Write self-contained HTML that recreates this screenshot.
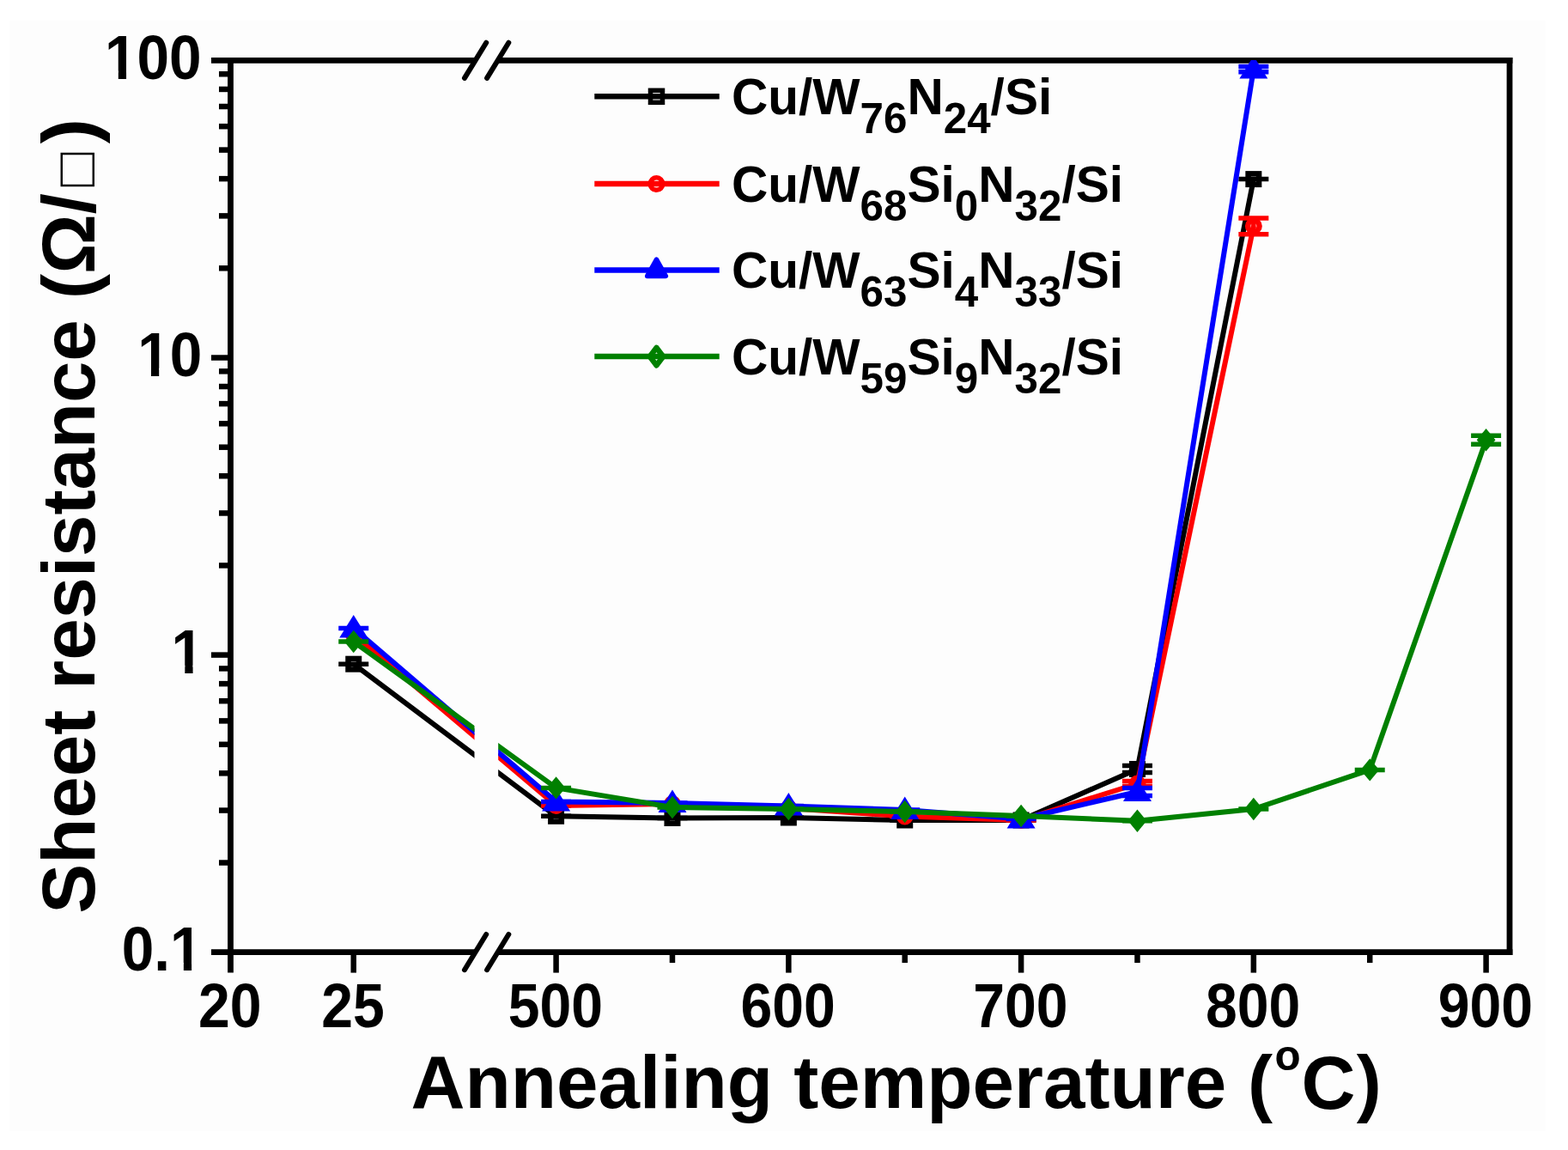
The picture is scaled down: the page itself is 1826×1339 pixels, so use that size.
<!DOCTYPE html>
<html><head><meta charset="utf-8"><title>Sheet resistance vs annealing temperature</title>
<style>html,body{margin:0;padding:0;background:#fff;} svg{display:block;}</style></head>
<body>
<svg width="1826" height="1339" viewBox="0 0 1826 1339" font-family="'Liberation Sans', Arial, sans-serif"><rect x="11" y="24" width="1789" height="1293" fill="#fdfdfd"/>
<g stroke="#000" stroke-width="6.8" fill="none"><line x1="268.5" y1="66.89999999999999" x2="268.5" y2="1132.6" /><line x1="1758.0" y1="66.89999999999999" x2="1758.0" y2="1112.0" /><line x1="246.0" y1="70.3" x2="553.6" y2="70.3" /><line x1="579.7" y1="70.3" x2="1761.4" y2="70.3" /><line x1="246.0" y1="1108.6" x2="553.6" y2="1108.6" /><line x1="579.7" y1="1108.6" x2="1761.4" y2="1108.6" /></g>
<g stroke="#000" stroke-width="6.5" fill="none"><line x1="255.0" y1="1004.51" x2="268.5" y2="1004.51" /><line x1="255.0" y1="943.57" x2="268.5" y2="943.57" /><line x1="255.0" y1="900.33" x2="268.5" y2="900.33" /><line x1="255.0" y1="866.79" x2="268.5" y2="866.79" /><line x1="255.0" y1="839.38" x2="268.5" y2="839.38" /><line x1="255.0" y1="816.21" x2="268.5" y2="816.21" /><line x1="255.0" y1="796.14" x2="268.5" y2="796.14" /><line x1="255.0" y1="778.44" x2="268.5" y2="778.44" /><line x1="255.0" y1="658.41" x2="268.5" y2="658.41" /><line x1="255.0" y1="597.47" x2="268.5" y2="597.47" /><line x1="255.0" y1="554.23" x2="268.5" y2="554.23" /><line x1="255.0" y1="520.69" x2="268.5" y2="520.69" /><line x1="255.0" y1="493.28" x2="268.5" y2="493.28" /><line x1="255.0" y1="470.11" x2="268.5" y2="470.11" /><line x1="255.0" y1="450.04" x2="268.5" y2="450.04" /><line x1="255.0" y1="432.34" x2="268.5" y2="432.34" /><line x1="255.0" y1="312.31" x2="268.5" y2="312.31" /><line x1="255.0" y1="251.37" x2="268.5" y2="251.37" /><line x1="255.0" y1="208.13" x2="268.5" y2="208.13" /><line x1="255.0" y1="174.59" x2="268.5" y2="174.59" /><line x1="255.0" y1="147.18" x2="268.5" y2="147.18" /><line x1="255.0" y1="124.01" x2="268.5" y2="124.01" /><line x1="255.0" y1="103.94" x2="268.5" y2="103.94" /><line x1="255.0" y1="86.24" x2="268.5" y2="86.24" /><line x1="246.0" y1="416.50" x2="268.5" y2="416.50" /><line x1="246.0" y1="762.60" x2="268.5" y2="762.60" /><line x1="411.75" y1="1108.6" x2="411.75" y2="1132.6" /><line x1="647.60" y1="1108.6" x2="647.60" y2="1132.6" /><line x1="918.35" y1="1108.6" x2="918.35" y2="1132.6" /><line x1="1189.10" y1="1108.6" x2="1189.10" y2="1132.6" /><line x1="1459.85" y1="1108.6" x2="1459.85" y2="1132.6" /><line x1="1730.60" y1="1108.6" x2="1730.60" y2="1132.6" /><line x1="782.98" y1="1108.6" x2="782.98" y2="1121.1" /><line x1="1053.72" y1="1108.6" x2="1053.72" y2="1121.1" /><line x1="1324.47" y1="1108.6" x2="1324.47" y2="1121.1" /><line x1="1595.22" y1="1108.6" x2="1595.22" y2="1121.1" /></g>
<g stroke="#000" stroke-width="6" stroke-linecap="round" fill="none"><line x1="541.0" y1="90.9" x2="566.2" y2="49.7" /><line x1="567.1" y1="90.9" x2="592.3" y2="49.7" /><line x1="541.0" y1="1129.2" x2="566.2" y2="1088.0" /><line x1="567.1" y1="1129.2" x2="592.3" y2="1088.0" /></g>
<g font-size="67.5" font-weight="bold"><text clip-path="url(#c1_0)" transform="translate(122.05,92.0) scale(1,1.06)">100</text><text clip-path="url(#c1_1)" transform="translate(160.19,438.1) scale(1,1.06)">10</text><text clip-path="url(#c1_2)" transform="translate(199.58,784.2) scale(1,1.06)">1</text><text clip-path="url(#c1_3)" transform="translate(141.80,1130.3) scale(1,1.06)">0.1</text><text text-anchor="middle" transform="translate(267.8,1196.4) scale(0.98,1.06)">20</text><text text-anchor="middle" transform="translate(411.1,1196.4) scale(0.98,1.06)">25</text><text text-anchor="middle" transform="translate(646.9,1196.4) scale(0.98,1.06)">500</text><text text-anchor="middle" transform="translate(917.6,1196.4) scale(0.98,1.06)">600</text><text text-anchor="middle" transform="translate(1188.4,1196.4) scale(0.98,1.06)">700</text><text text-anchor="middle" transform="translate(1459.1,1196.4) scale(0.98,1.06)">800</text><text text-anchor="middle" transform="translate(1729.9,1196.4) scale(0.98,1.06)">900</text></g>
<text font-size="87" font-weight="bold" transform="translate(109.6,1063.8) rotate(-90)">Sheet resistance (Ω/<tspan font-weight="normal" font-size="66" dx="8">□</tspan><tspan dx="10">)</tspan></text>
<text font-weight="bold" font-size="87.2" x="478.6" y="1290.3">Annealing temperature <tspan x="1452.9" y="1290">(</tspan><tspan x="1484.5" y="1246" font-size="49.4">o</tspan><tspan x="1515.6" y="1290.6">C</tspan><tspan x="1579.8" y="1290">)</tspan></text>
<defs><clipPath id="c1_0"><rect x="-50" y="-200" width="300" height="191.11"/><rect x="-50.00" y="-200" width="52.25" height="300"/><rect x="15.75" y="-200" width="9.26" height="300"/><rect x="37.66" y="-200" width="212.34" height="300"/></clipPath><clipPath id="c1_1"><rect x="-50" y="-200" width="300" height="191.11"/><rect x="-50.00" y="-200" width="52.25" height="300"/><rect x="15.75" y="-200" width="9.26" height="300"/><rect x="37.66" y="-200" width="212.34" height="300"/></clipPath><clipPath id="c1_2"><rect x="-50" y="-200" width="300" height="191.11"/><rect x="-50.00" y="-200" width="52.25" height="300"/><rect x="15.75" y="-200" width="9.26" height="300"/><rect x="37.66" y="-200" width="212.34" height="300"/></clipPath><clipPath id="c1_3"><rect x="-50" y="-200" width="300" height="191.11"/><rect x="-50.00" y="-200" width="108.55" height="300"/><rect x="72.05" y="-200" width="9.26" height="300"/><rect x="93.96" y="-200" width="156.04" height="300"/></clipPath><clipPath id="cl"><rect x="268.5" y="70" width="284" height="1039"/><rect x="580.2" y="70" width="1177.8" height="1039"/></clipPath></defs>
<g clip-path="url(#cl)"><g><polyline points="411.75,773.20 647.60,950.30 782.98,952.50 918.35,952.00 1053.72,955.00 1189.10,955.00 1324.47,895.50 1459.85,208.60" fill="none" stroke="#000000" stroke-width="6.0" stroke-linejoin="round"/><g stroke="#000000" stroke-width="5.5"><line x1="394.25" y1="773.20" x2="429.25" y2="773.20"/></g><rect x="405.50" y="766.95" width="12.5" height="12.5" fill="none" stroke="#000000" stroke-width="6.5"/><g stroke="#000000" stroke-width="5.5"><line x1="630.10" y1="950.30" x2="665.10" y2="950.30"/></g><rect x="641.35" y="944.05" width="12.5" height="12.5" fill="none" stroke="#000000" stroke-width="6.5"/><g stroke="#000000" stroke-width="5.5"><line x1="765.48" y1="952.50" x2="800.48" y2="952.50"/></g><rect x="776.73" y="946.25" width="12.5" height="12.5" fill="none" stroke="#000000" stroke-width="6.5"/><g stroke="#000000" stroke-width="5.5"><line x1="900.85" y1="952.00" x2="935.85" y2="952.00"/></g><rect x="912.10" y="945.75" width="12.5" height="12.5" fill="none" stroke="#000000" stroke-width="6.5"/><g stroke="#000000" stroke-width="5.5"><line x1="1036.22" y1="955.00" x2="1071.22" y2="955.00"/></g><rect x="1047.47" y="948.75" width="12.5" height="12.5" fill="none" stroke="#000000" stroke-width="6.5"/><g stroke="#000000" stroke-width="5.5"><line x1="1171.60" y1="955.00" x2="1206.60" y2="955.00"/></g><rect x="1182.85" y="948.75" width="12.5" height="12.5" fill="none" stroke="#000000" stroke-width="6.5"/><g stroke="#000000" stroke-width="5.5"><line x1="1324.47" y1="891.50" x2="1324.47" y2="899.50"/><line x1="1306.97" y1="891.50" x2="1341.97" y2="891.50"/><line x1="1306.97" y1="899.50" x2="1341.97" y2="899.50"/></g><rect x="1318.22" y="889.25" width="12.5" height="12.5" fill="none" stroke="#000000" stroke-width="6.5"/><g stroke="#000000" stroke-width="5.5"><line x1="1442.35" y1="208.60" x2="1477.35" y2="208.60"/></g><rect x="1453.60" y="202.35" width="12.5" height="12.5" fill="none" stroke="#000000" stroke-width="6.5"/></g><g><polyline points="411.75,738.50 647.60,938.00 782.98,936.00 918.35,941.00 1053.72,950.50 1189.10,955.00 1324.47,912.50 1459.85,263.30" fill="none" stroke="#ff0000" stroke-width="6.0" stroke-linejoin="round"/><g stroke="#ff0000" stroke-width="5.5"></g><circle cx="411.75" cy="738.50" r="6.75" fill="none" stroke="#ff0000" stroke-width="6.5"/><g stroke="#ff0000" stroke-width="5.5"><line x1="630.10" y1="938.00" x2="665.10" y2="938.00"/></g><circle cx="647.60" cy="938.00" r="6.75" fill="none" stroke="#ff0000" stroke-width="6.5"/><g stroke="#ff0000" stroke-width="5.5"><line x1="765.48" y1="936.00" x2="800.48" y2="936.00"/></g><circle cx="782.98" cy="936.00" r="6.75" fill="none" stroke="#ff0000" stroke-width="6.5"/><g stroke="#ff0000" stroke-width="5.5"><line x1="900.85" y1="941.00" x2="935.85" y2="941.00"/></g><circle cx="918.35" cy="941.00" r="6.75" fill="none" stroke="#ff0000" stroke-width="6.5"/><g stroke="#ff0000" stroke-width="5.5"><line x1="1036.22" y1="950.50" x2="1071.22" y2="950.50"/></g><circle cx="1053.72" cy="950.50" r="6.75" fill="none" stroke="#ff0000" stroke-width="6.5"/><g stroke="#ff0000" stroke-width="5.5"><line x1="1171.60" y1="955.00" x2="1206.60" y2="955.00"/></g><circle cx="1189.10" cy="955.00" r="6.75" fill="none" stroke="#ff0000" stroke-width="6.5"/><g stroke="#ff0000" stroke-width="5.5"><line x1="1324.47" y1="909.50" x2="1324.47" y2="915.50"/><line x1="1306.97" y1="909.50" x2="1341.97" y2="909.50"/><line x1="1306.97" y1="915.50" x2="1341.97" y2="915.50"/></g><circle cx="1324.47" cy="912.50" r="6.75" fill="none" stroke="#ff0000" stroke-width="6.5"/><g stroke="#ff0000" stroke-width="5.5"><line x1="1459.85" y1="253.90" x2="1459.85" y2="272.70"/><line x1="1442.35" y1="253.90" x2="1477.35" y2="253.90"/><line x1="1442.35" y1="272.70" x2="1477.35" y2="272.70"/></g><circle cx="1459.85" cy="263.30" r="6.75" fill="none" stroke="#ff0000" stroke-width="6.5"/></g><g><polyline points="411.75,731.50 647.60,933.50 782.98,935.00 918.35,938.50 1053.72,943.00 1189.10,953.50 1324.47,922.00 1459.85,80.60" fill="none" stroke="#0000ff" stroke-width="6.0" stroke-linejoin="round"/><g stroke="#0000ff" stroke-width="5.5"><line x1="394.25" y1="731.50" x2="429.25" y2="731.50"/></g><path d="M411.75 716.00 L428.25 742.50 L395.25 742.50 Z" fill="#0000ff"/><g stroke="#0000ff" stroke-width="5.5"><line x1="630.10" y1="933.50" x2="665.10" y2="933.50"/></g><path d="M647.60 918.00 L664.10 944.50 L631.10 944.50 Z" fill="#0000ff"/><g stroke="#0000ff" stroke-width="5.5"><line x1="765.48" y1="935.00" x2="800.48" y2="935.00"/></g><path d="M782.98 919.50 L799.48 946.00 L766.48 946.00 Z" fill="#0000ff"/><g stroke="#0000ff" stroke-width="5.5"><line x1="900.85" y1="938.50" x2="935.85" y2="938.50"/></g><path d="M918.35 923.00 L934.85 949.50 L901.85 949.50 Z" fill="#0000ff"/><g stroke="#0000ff" stroke-width="5.5"><line x1="1036.22" y1="943.00" x2="1071.22" y2="943.00"/></g><path d="M1053.72 927.50 L1070.22 954.00 L1037.22 954.00 Z" fill="#0000ff"/><g stroke="#0000ff" stroke-width="5.5"><line x1="1171.60" y1="953.50" x2="1206.60" y2="953.50"/></g><path d="M1189.10 938.00 L1205.60 964.50 L1172.60 964.50 Z" fill="#0000ff"/><g stroke="#0000ff" stroke-width="5.5"><line x1="1324.47" y1="917.50" x2="1324.47" y2="926.50"/><line x1="1306.97" y1="917.50" x2="1341.97" y2="917.50"/><line x1="1306.97" y1="926.50" x2="1341.97" y2="926.50"/></g><path d="M1324.47 906.50 L1340.97 933.00 L1307.97 933.00 Z" fill="#0000ff"/><g stroke="#0000ff" stroke-width="5.5"><line x1="1459.85" y1="77.40" x2="1459.85" y2="83.80"/><line x1="1442.35" y1="77.40" x2="1477.35" y2="77.40"/><line x1="1442.35" y1="83.80" x2="1477.35" y2="83.80"/></g><path d="M1459.85 65.10 L1476.35 91.60 L1443.35 91.60 Z" fill="#0000ff"/></g><g><polyline points="411.75,747.00 647.60,917.40 782.98,940.00 918.35,942.00 1053.72,945.00 1189.10,950.00 1324.47,955.70 1459.85,942.00 1595.22,896.40 1730.60,512.20" fill="none" stroke="#008000" stroke-width="6.0" stroke-linejoin="round"/><g stroke="#008000" stroke-width="5.5"><line x1="394.25" y1="747.00" x2="429.25" y2="747.00"/></g><path d="M411.75 733.80 L422.65 747.00 L411.75 760.20 L400.85 747.00 Z" fill="#008000"/><g stroke="#008000" stroke-width="5.5"><line x1="630.10" y1="917.40" x2="665.10" y2="917.40"/></g><path d="M647.60 904.20 L658.50 917.40 L647.60 930.60 L636.70 917.40 Z" fill="#008000"/><g stroke="#008000" stroke-width="5.5"><line x1="765.48" y1="940.00" x2="800.48" y2="940.00"/></g><path d="M782.98 926.80 L793.88 940.00 L782.98 953.20 L772.08 940.00 Z" fill="#008000"/><g stroke="#008000" stroke-width="5.5"><line x1="900.85" y1="942.00" x2="935.85" y2="942.00"/></g><path d="M918.35 928.80 L929.25 942.00 L918.35 955.20 L907.45 942.00 Z" fill="#008000"/><g stroke="#008000" stroke-width="5.5"><line x1="1036.22" y1="945.00" x2="1071.22" y2="945.00"/></g><path d="M1053.72 931.80 L1064.62 945.00 L1053.72 958.20 L1042.82 945.00 Z" fill="#008000"/><g stroke="#008000" stroke-width="5.5"><line x1="1171.60" y1="950.00" x2="1206.60" y2="950.00"/></g><path d="M1189.10 936.80 L1200.00 950.00 L1189.10 963.20 L1178.20 950.00 Z" fill="#008000"/><g stroke="#008000" stroke-width="5.5"><line x1="1306.97" y1="955.70" x2="1341.97" y2="955.70"/></g><path d="M1324.47 942.50 L1335.38 955.70 L1324.47 968.90 L1313.57 955.70 Z" fill="#008000"/><g stroke="#008000" stroke-width="5.5"><line x1="1442.35" y1="942.00" x2="1477.35" y2="942.00"/></g><path d="M1459.85 928.80 L1470.75 942.00 L1459.85 955.20 L1448.95 942.00 Z" fill="#008000"/><g stroke="#008000" stroke-width="5.5"><line x1="1577.72" y1="896.40" x2="1612.72" y2="896.40"/></g><path d="M1595.22 883.20 L1606.12 896.40 L1595.22 909.60 L1584.32 896.40 Z" fill="#008000"/><g stroke="#008000" stroke-width="5.5"><line x1="1730.60" y1="507.20" x2="1730.60" y2="517.20"/><line x1="1713.10" y1="507.20" x2="1748.10" y2="507.20"/><line x1="1713.10" y1="517.20" x2="1748.10" y2="517.20"/></g><path d="M1730.60 499.00 L1741.50 512.20 L1730.60 525.40 L1719.70 512.20 Z" fill="#008000"/></g></g>
<g><line x1="692.3" y1="112.3" x2="837.7" y2="112.3" stroke="#000000" stroke-width="6.5"/><rect x="757.50" y="105.30" width="14" height="14" fill="none" stroke="#000000" stroke-width="5.5"/><text x="851.9" y="132.7" font-size="58.6" font-weight="bold"><tspan>Cu/W</tspan><tspan font-size="49.3" dy="22.4">76</tspan><tspan dy="-22.4">N</tspan><tspan font-size="49.3" dy="22.4">24</tspan><tspan dy="-22.4">/Si</tspan></text><line x1="692.3" y1="214.1" x2="837.7" y2="214.1" stroke="#ff0000" stroke-width="6.5"/><circle cx="764.50" cy="214.10" r="7.25" fill="none" stroke="#ff0000" stroke-width="5.5"/><text x="851.9" y="234.5" font-size="58.6" font-weight="bold"><tspan>Cu/W</tspan><tspan font-size="49.3" dy="22.4">68</tspan><tspan dy="-22.4">Si</tspan><tspan font-size="49.3" dy="22.4">0</tspan><tspan dy="-22.4">N</tspan><tspan font-size="49.3" dy="22.4">32</tspan><tspan dy="-22.4">/Si</tspan></text><line x1="692.3" y1="314.4" x2="837.7" y2="314.4" stroke="#0000ff" stroke-width="6.5"/><path d="M764.50 302.20 L775.30 321.40 L753.70 321.40 Z" fill="#0000ff" stroke="#0000ff" stroke-width="5.5" stroke-linejoin="round"/><text x="851.9" y="334.8" font-size="58.6" font-weight="bold"><tspan>Cu/W</tspan><tspan font-size="49.3" dy="22.4">63</tspan><tspan dy="-22.4">Si</tspan><tspan font-size="49.3" dy="22.4">4</tspan><tspan dy="-22.4">N</tspan><tspan font-size="49.3" dy="22.4">33</tspan><tspan dy="-22.4">/Si</tspan></text><line x1="692.3" y1="415.1" x2="837.7" y2="415.1" stroke="#008000" stroke-width="6.5"/><path d="M764.50 404.85 L772.25 415.10 L764.50 425.35 L756.75 415.10 Z" fill="none" stroke="#008000" stroke-width="6.5" stroke-linejoin="round"/><text x="851.9" y="435.5" font-size="58.6" font-weight="bold"><tspan>Cu/W</tspan><tspan font-size="49.3" dy="22.4">59</tspan><tspan dy="-22.4">Si</tspan><tspan font-size="49.3" dy="22.4">9</tspan><tspan dy="-22.4">N</tspan><tspan font-size="49.3" dy="22.4">32</tspan><tspan dy="-22.4">/Si</tspan></text></g></svg>
</body></html>
